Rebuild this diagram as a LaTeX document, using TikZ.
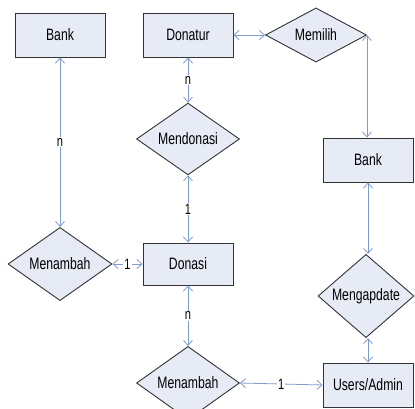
\documentclass[tikz,border=0pt]{standalone}
\usepackage{fontspec}
\setmainfont{Liberation Sans}[FakeStretch=0.74]
\usetikzlibrary{shapes.geometric,arrows.meta}
\definecolor{entfill}{HTML}{E6EBF6}
\definecolor{edge}{HTML}{333333}
\definecolor{link}{HTML}{7F9DCB}
\tikzset{
  entity/.style={draw=edge, fill=entfill, line width=0.9pt, minimum width=90pt, minimum height=44pt, inner sep=0pt, font=\fontsize{16.5}{16.5}\selectfont},
  relation/.style={draw=edge, fill=entfill, line width=0.9pt, diamond, inner sep=0pt, font=\fontsize{16.5}{16.5}\selectfont},
  conn/.style={draw=link, line width=0.8pt, {Straight Barb[length=5pt,width=9pt]}-{Straight Barb[length=5pt,width=9pt]}},
  card/.style={fill=white, inner sep=1pt, font=\fontsize{15}{15}\selectfont}
}
\begin{document}
\begin{tikzpicture}[x=1pt, y=-1pt]
\useasboundingbox (0,0) rectangle (415,409);
% entities
\node[entity] (bankl) at (60,35) {Bank};
\node[entity] (donatur) at (188,35) {Donatur};
\node[entity, minimum height=42pt] (donasi) at (188,264) {Donasi};
\node[entity] (bankr) at (368,160) {Bank};
\node[entity] (users) at (368,385) {Users/Admin};
% relationships
\node[relation, minimum width=101pt, minimum height=54pt] (memilih) at (316,35) {Memilih};
\node[relation, minimum width=103pt, minimum height=52pt] (mendonasi) at (188,139) {Mendonasi};
\node[relation, minimum width=104pt, minimum height=53pt] (menambahl) at (60,264) {Menambah};
\node[relation, minimum width=96pt, minimum height=57pt] (mengapdate) at (366,296) {Mengapdate};
\node[relation, minimum width=103pt, minimum height=51pt] (menambahb) at (188,383) {Menambah};
% connectors
\draw[conn] (donatur.east) -- (memilih.west);
\draw[conn] (memilih.east) -- (memilih.east |- bankr.north);
\draw[conn] (bankr.south) -- (bankr.south |- mengapdate.north);
\draw[conn] (bankr.south |- mengapdate.south) -- (users.north);
\draw[conn] (donatur.south) -- node[card] {n} (mendonasi.north);
\draw[conn] (mendonasi.south) -- node[card] {1} (donasi.north);
\draw[conn] (bankl.south) -- node[card, pos=0.5] {n} (menambahl.north);
\draw[conn] (menambahl.east) -- node[card] {1} (donasi.west);
\draw[conn] (donasi.south) -- node[card] {n} (menambahb.north);
\draw[conn] (menambahb.east) -- node[card] {1} (users.west);
\end{tikzpicture}
\end{document}
